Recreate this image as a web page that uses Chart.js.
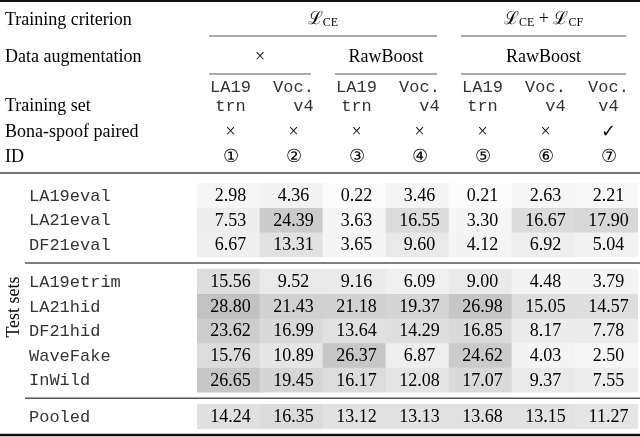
<!DOCTYPE html>
<html><head><meta charset="utf-8">
<script src="https://cdn.jsdelivr.net/npm/chart.js@4/dist/chart.umd.min.js"></script>
<style>html,body{margin:0;padding:0;background:#fff}#w{width:640px;height:437px}</style>
</head><body><div id="w"><canvas id="c"></canvas></div>
<script>
const ids = ['①','②','③','④','⑤','⑥','⑦'];
const trainSetTop = ['LA19','Voc.','LA19','Voc.','LA19','Voc.','Voc.'];
const trainSetBot = ['trn','v4','trn','v4','trn','v4','v4'];
const paired = ['×','×','×','×','×','×','✓'];
const testSets = ['LA19eval','LA21eval','DF21eval','LA19etrim','LA21hid','DF21hid','WaveFake','InWild','Pooled'];
const groupSizes = [3,5,1];
const LA19eval  = [2.98,4.36,0.22,3.46,0.21,2.63,2.21];
const LA21eval  = [7.53,24.39,3.63,16.55,3.30,16.67,17.90];
const DF21eval  = [6.67,13.31,3.65,9.60,4.12,6.92,5.04];
const LA19etrim = [15.56,9.52,9.16,6.09,9.00,4.48,3.79];
const LA21hid   = [28.80,21.43,21.18,19.37,26.98,15.05,14.57];
const DF21hid   = [23.62,16.99,13.64,14.29,16.85,8.17,7.78];
const WaveFake  = [15.76,10.89,26.37,6.87,24.62,4.03,2.50];
const InWild    = [26.65,19.45,16.17,12.08,17.07,9.37,7.55];
const Pooled    = [14.24,16.35,13.12,13.13,13.68,13.15,11.27];
const rows = [LA19eval,LA21eval,DF21eval,LA19etrim,LA21hid,DF21hid,WaveFake,InWild,Pooled];

const rowPos=[]; let p=0;
groupSizes.forEach((n,g)=>{for(let i=0;i<n;i++){rowPos.push(p);p+=1;} p+=0.5;});
const shade=v=>{const g=Math.round(252-v*2.0);return `rgb(${g},${g},${g})`;};

const SERIF='"Liberation Serif", "DejaVu Serif", serif';
const MONO='"Liberation Mono", "DejaVu Sans Mono", monospace';

const datasets = rows.map((r,i)=>({
  label:testSets[i],
  data:r.map(()=>[rowPos[i]-0.5,rowPos[i]+0.5]),
  vals:r,
  backgroundColor:r.map(shade),
  borderWidth:0, grouped:false, barPercentage:1, categoryPercentage:1
}));

const tablePlugin={id:'tbl',afterDatasetsDraw(chart){
  const ctx=chart.ctx, xs=chart.scales.x, ys=chart.scales.y;
  const cx=i=>xs.getPixelForValue(i);
  const colW=cx(1)-cx(0);
  ctx.save(); ctx.fillStyle='#000'; ctx.textBaseline='middle';
  chart.data.datasets.forEach((ds,di)=>{
    const y=ys.getPixelForValue(rowPos[di]);
    ctx.fillStyle='#000'; ctx.font='18px '+SERIF; ctx.textAlign='center';
    ds.vals.forEach((v,j)=>ctx.fillText(v.toFixed(2),cx(j)+2,y+1));
    ctx.fillStyle='#333'; ctx.font='17px '+MONO; ctx.textAlign='left';
    ctx.fillText(testSets[di],29,y+1);
  });
  ctx.fillStyle='#000';
  ctx.font='18px '+SERIF; ctx.textAlign='left';
  ctx.fillText('Training criterion',5,20);
  ctx.fillText('Data augmentation',5,57);
  ctx.fillText('Training set',5,106);
  ctx.fillText('Bona-spoof paired',5,132);
  ctx.fillText('ID',5,157);
  const L=(parts,x,y)=>{
    ctx.textAlign='left'; let w=0;
    parts.forEach(pt=>{ctx.font=(pt.s?'12px ':'18px ')+SERIF; w+=ctx.measureText(pt.t).width;});
    let xx=x-w/2;
    parts.forEach(pt=>{ctx.font=(pt.s?'12px ':'18px ')+SERIF; ctx.fillText(pt.t,xx,y+(pt.s?4:0)); xx+=ctx.measureText(pt.t).width;});
  };
  L([{t:'ℒ'},{t:'CE',s:1}],(cx(0)+cx(3))/2,19);
  L([{t:'ℒ'},{t:'CE',s:1},{t:' + '},{t:'ℒ'},{t:'CF',s:1}],(cx(4)+cx(6))/2,19);
  ctx.font='18px '+SERIF; ctx.textAlign='center';
  ctx.fillText('×',(cx(0)+cx(1))/2,57);
  ctx.fillText('RawBoost',(cx(2)+cx(3))/2,57);
  ctx.fillText('RawBoost',(cx(4)+cx(6))/2,57);
  ids.forEach((t,j)=>{
    ctx.fillStyle='#333'; ctx.font='17px '+MONO; ctx.fillText(trainSetTop[j],cx(j)+2,87); ctx.fillText(trainSetBot[j],cx(j)+2+(j%2?10:0),106);
    ctx.fillStyle='#000'; ctx.font='18px '+SERIF; ctx.fillText(paired[j],cx(j)+2,132);
    ctx.font='18px "DejaVu Serif", serif'; ctx.fillText(t,cx(j)+2,157);
  });
  const hl=(x1,x2,y,w,c)=>{ctx.strokeStyle=c;ctx.lineWidth=w;ctx.beginPath();ctx.moveTo(x1,y);ctx.lineTo(x2,y);ctx.stroke();};
  hl(0,640,1,2,'#111');
  hl(cx(0)-colW/2+12,cx(3)+colW/2-12,36,1.2,'#555');
  hl(cx(4)-colW/2+12,cx(6)+colW/2-12,36,1.2,'#555');
  hl(cx(0)-colW/2+12,cx(1)+colW/2-12,74,1.2,'#555');
  hl(cx(2)-colW/2+12,cx(3)+colW/2-12,74,1.2,'#555');
  hl(cx(4)-colW/2+12,cx(6)+colW/2-12,74,1.2,'#555');
  hl(0,640,173,1.5,'#444');
  const mid=(a,b)=>(ys.getPixelForValue(rowPos[a]+0.5)+ys.getPixelForValue(rowPos[b]-0.5))/2;
  hl(25,640,mid(2,3),1.5,'#555');
  hl(25,640,mid(7,8),1.5,'#555');
  hl(0,640,435,2.5,'#111');
  ctx.save(); ctx.translate(14,307); ctx.rotate(-Math.PI/2); ctx.textAlign='center'; ctx.font='18px '+SERIF;
  ctx.fillText('Test sets',0,0); ctx.restore();
  ctx.restore();
}};

new Chart(document.getElementById('c'),{
  type:'bar',
  data:{labels:ids,datasets},
  options:{
    responsive:true,maintainAspectRatio:false,animation:false,
    layout:{padding:{left:197,right:2,top:183,bottom:8}},
    plugins:{legend:{display:false},tooltip:{enabled:false}},
    scales:{
      x:{display:false,offset:true,grid:{display:false}},
      y:{display:false,reverse:true,min:-0.5,max:rowPos[rowPos.length-1]+0.5}
    }
  },
  plugins:[tablePlugin]
});
</script></body></html>
